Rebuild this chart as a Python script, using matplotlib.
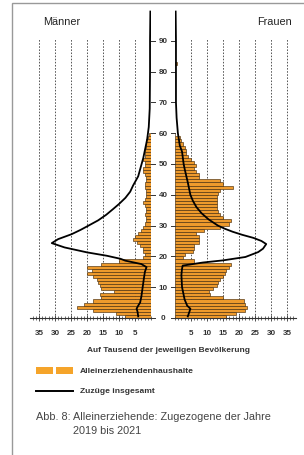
import matplotlib
matplotlib.use("Agg")
import matplotlib.pyplot as plt
from matplotlib.patches import Rectangle
from matplotlib.lines import Line2D
import numpy as np

plt.rcParams['font.family'] = ['Liberation Sans', 'DejaVu Sans']

# ---- data ----
ages = list(range(0, 60))
men_bars = [8, 11, 18, 23, 21, 18, 15.5, 16, 11.5, 15.5,
            16, 16.5, 17, 18, 20, 18.5, 20, 15.5, 10, 2.5,
            2, 2.5, 2.5, 3.5, 4.5, 5.5, 5, 4, 3, 2.5,
            2, 1.5, 1.5, 2, 1.5, 1.5, 2, 2.5, 2, 1.5,
            1.5, 1.5, 2, 2, 1.5, 1.5, 2, 2.5, 2.5, 2,
            2, 2.5, 2, 2, 2, 1.5, 1.5, 1.5, 1, 0.5]
women_bars = [16, 19, 22, 22.5, 22, 21.5, 15, 11, 10.5, 12,
              13, 13.5, 14, 15, 15.5, 16, 17, 17.5, 6, 2.5,
              3, 5.5, 6, 6, 7.5, 7.5, 7.5, 6.5, 9, 14,
              17, 17.5, 15, 14, 13.5, 13, 13, 13, 13, 13,
              13.5, 14, 18, 15, 14, 7.5, 7.5, 6.5, 6, 6.5,
              6, 5, 4, 3.5, 3.5, 3, 2.5, 2, 1.5, 0]
women_extra_ages = [82]
women_extra_vals = [0.6]

men_line_ages = [0.5, 2, 3, 4, 5, 7, 10, 13, 15, 16.5, 17.5, 18.6, 19.2, 20.2, 21.3,
                 22.9, 24.3, 25.6, 27.2, 28.6, 30, 31.7, 33.5, 35.4, 37, 39, 41, 43,
                 46, 49, 52, 55, 58, 62, 68, 80, 90, 99.5]
men_line_vals = [4.0, 4.2, 4.5, 4.0, 3.4, 3.0, 2.6, 2.2, 1.9, 1.4, 3.0, 8.0, 9.5, 13.8, 20,
                 27, 31, 29, 24.8, 22, 19.5, 16.5, 14, 11.8, 10, 8, 6.5, 5.6,
                 4.0, 3.2, 2.4, 1.8, 1.2, 0.7, 0.4, 0.3, 0.3, 0.2]
women_line_ages = [0.5, 2, 3, 4, 6, 8, 10, 14, 16, 17, 18, 18.7, 19.8, 21.4, 22.5, 24,
                   25, 26, 27, 28, 29, 30, 32, 34, 36, 38, 40, 44, 48, 50, 54, 56,
                   58, 60, 65, 70, 80, 90, 99.5]
women_line_vals = [4.0, 4.5, 4.8, 3.8, 3.0, 2.6, 2.2, 2.0, 2.2, 2.4, 8.7, 15, 22, 26, 27.5, 28.5,
                   27, 24.5, 21, 18, 15.5, 13.4, 10.5, 8.3, 6.7, 5.6, 4.8, 4.0, 3.1, 2.7, 2.2, 1.5,
                   1.2, 0.9, 0.5, 0.3, 0.3, 0.3, 0.2]

grid_vals = [5, 10, 15, 20, 25, 30, 35]
age_ticks = [0, 10, 20, 30, 40, 50, 60, 70, 80, 90]

W, H = 304, 456
fig = plt.figure(figsize=(W / 100, H / 100), dpi=100)

def ax_px(x0, y0, x1, y1):
    return fig.add_axes([x0 / W, 1 - y1 / H, (x1 - x0) / W, (y1 - y0) / H])

# frame
fig.patches.append(Rectangle((12 / W, -0.05), 1.2, (1 - 4 / H) + 0.05, transform=fig.transFigure,
                             fill=False, edgecolor='#999999', linewidth=1.0))

XMAX = 37.8
YLO, YHI = -0.5, 100.0
axL = ax_px(30, 11, 151, 320.5)
axR = ax_px(175, 11, 296, 320.5)

bar_fc = '#EE9A2C'
bar_ec = '#4A2E0C'
for ax, bars, lages, lvals in [(axL, men_bars, men_line_ages, men_line_vals),
                               (axR, women_bars, women_line_ages, women_line_vals)]:
    ax.set_xlim(0, XMAX)
    ax.set_ylim(YLO, YHI)
    for g in grid_vals:
        ax.plot([g, g], [0, 90.5], color='#555555', lw=0.7, linestyle=(0, (1.6, 1.6)), zorder=1)
    ax.barh(ages, bars, height=1.0, align='edge', color=bar_fc, edgecolor=bar_ec,
            linewidth=0.45, zorder=2)
    ax.plot(lvals, lages, color='black', lw=1.3, zorder=3)
    for s in ['top', 'right', 'left']:
        ax.spines[s].set_visible(False)
    ax.spines['bottom'].set_position(('data', 0))
    ax.spines['bottom'].set_linewidth(0.8)
    ax.spines['bottom'].set_color('#333333')
    ax.set_yticks([])
    ax.set_xticks(grid_vals)
    ax.set_xticks(np.arange(0, 38, 1), minor=True)
    ax.tick_params(axis='x', which='major', direction='inout', length=4, width=0.6,
                   colors='#333333', labelsize=5.8, pad=6)
    ax.tick_params(axis='x', which='minor', direction='inout', length=2.5, width=0.5,
                   colors='#333333')
    for lab in ax.get_xticklabels():
        lab.set_fontweight('bold')
    ax.patch.set_alpha(0)

axL.invert_xaxis()
axR.barh(women_extra_ages, women_extra_vals, height=1.0, align='edge', color=bar_fc,
         edgecolor=bar_ec, linewidth=0.45, zorder=2)

# center age labels
for a in age_ticks:
    axR.text(-3.75, a, str(a), ha='center', va='center', fontsize=5.8, fontweight='bold',
             color='#333333', clip_on=False)
    axR.plot([-7.5, -6.2], [a, a], color='#333333', lw=0.7, clip_on=False)
    axR.plot([-1.3, 0], [a, a], color='#333333', lw=0.7, clip_on=False)

fig.text(62 / W, 1 - 22 / H, 'Männer', ha='center', va='center', fontsize=7.8, color='#222222')
fig.text(275 / W, 1 - 22 / H, 'Frauen', ha='center', va='center', fontsize=7.8, color='#222222')
fig.text(168 / W, 1 - 350 / H, 'Auf Tausend der jeweiligen Bevölkerung', ha='center', va='center',
         fontsize=6.0, fontweight='bold', color='#333333')

# legend
fig.patches.append(Rectangle((36 / W, 1 - 375 / H), 17 / W, 7 / H, transform=fig.transFigure,
                             facecolor='#F5A42A', edgecolor='none'))
fig.patches.append(Rectangle((56 / W, 1 - 375 / H), 17 / W, 7 / H, transform=fig.transFigure,
                             facecolor='#F5A42A', edgecolor='none'))
fig.text(80 / W, 1 - 371.5 / H, 'Alleinerziehendenhaushalte', ha='left', va='center',
         fontsize=6.1, fontweight='bold', color='#333333')
fig.lines.append(Line2D([36 / W, 73 / W], [1 - 392 / H, 1 - 392 / H], transform=fig.transFigure,
                        color='black', lw=1.4))
fig.text(80 / W, 1 - 392 / H, 'Zuzüge insgesamt', ha='left', va='center',
         fontsize=6.1, fontweight='bold', color='#333333')

# caption
fig.text(36 / W, 1 - 417 / H, 'Abb. 8:', ha='left', va='center', fontsize=7.8, color='#444444')
fig.text(73 / W, 1 - 417 / H, 'Alleinerziehende: Zugezogene der Jahre', ha='left', va='center',
         fontsize=7.8, color='#444444')
fig.text(73 / W, 1 - 431 / H, '2019 bis 2021', ha='left', va='center', fontsize=7.8,
         color='#444444')

fig.savefig('out.png', dpi=100, facecolor='white')
